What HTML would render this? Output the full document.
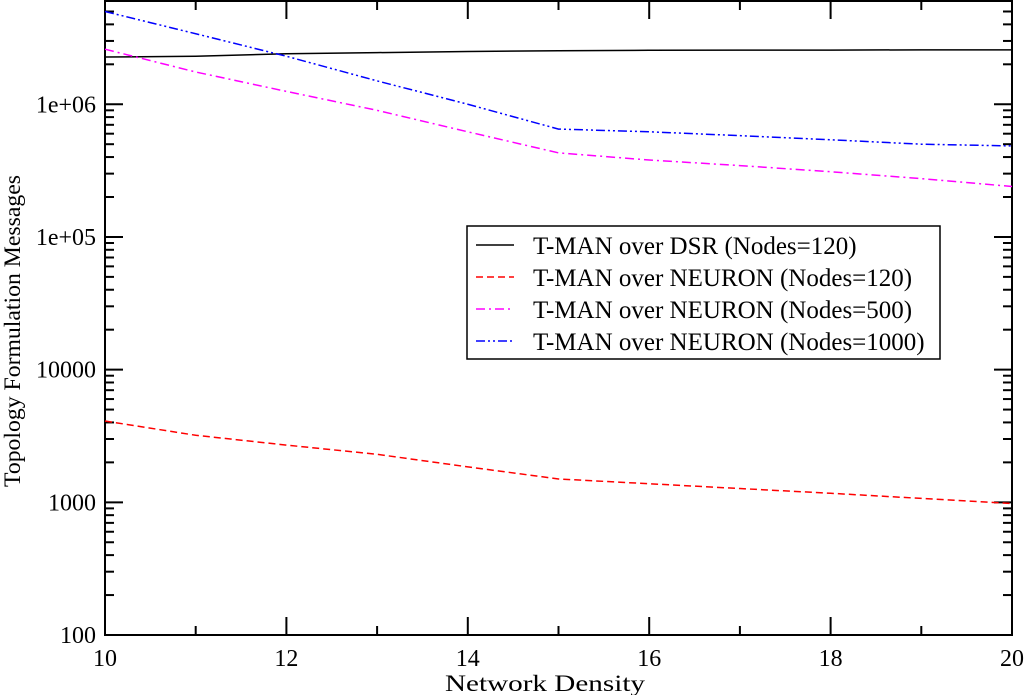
<!DOCTYPE html>
<html><head><meta charset="utf-8"><style>
html,body{margin:0;padding:0;background:#fff;}
svg{display:block;font-family:"Liberation Serif",serif;}
</style></head><body>
<svg id="chart" width="1024" height="695"></svg>
<script>
const xs=[10,11,12,13,14,15,16,17,18,19,20];
const dsr120=[2.27e6,2.3e6,2.4e6,2.45e6,2.5e6,2.53e6,2.55e6,2.56e6,2.56e6,2.57e6,2.57e6];
const neuron120=[4100,3200,2700,2300,1850,1500,1380,1270,1170,1070,980];
const neuron500=[2.6e6,1.75e6,1.25e6,0.9e6,6.2e5,4.3e5,3.8e5,3.45e5,3.1e5,2.75e5,2.4e5];
const neuron1000=[5e6,3.4e6,2.3e6,1.5e6,1e6,6.5e5,6.2e5,5.8e5,5.4e5,5.0e5,4.85e5];
const xTicks=[10,12,14,16,18,20];
const yTicks=[100,1000,10000,1e5,1e6];
const yTickLabels=["100","1000","10000","1e+05","1e+06"];
const legendLabels=["T-MAN over DSR (Nodes=120)","T-MAN over NEURON (Nodes=120)","T-MAN over NEURON (Nodes=500)","T-MAN over NEURON (Nodes=1000)"];

const L=105,R=1012,T=1,B=635,XMIN=10,XMAX=20,YMIN=100,YMAX=6e6;
const NS="http://www.w3.org/2000/svg";
const svg=document.getElementById('chart');
function X(v){return L+(v-XMIN)/(XMAX-XMIN)*(R-L);}
function Y(v){return B-(Math.log10(v)-Math.log10(YMIN))/(Math.log10(YMAX)-Math.log10(YMIN))*(B-T);}
function mk(t,a){const e=document.createElementNS(NS,t);for(const k in a)e.setAttribute(k,a[k]);svg.appendChild(e);return e;}

for(let v=10;v<=20;v+=1){const x=X(v);const len=(v%2===0)?18:9;
 let t=mk('line',{x1:x,y1:B,x2:x,y2:B-len,stroke:'#000','stroke-width':2});
 
 
 t=mk('line',{x1:x,y1:T,x2:x,y2:T+len,stroke:'#000','stroke-width':2});
 
 }
for(let d=100;d<=1e6;d*=10){for(let m=1;m<10;m++){const v=d*m;if(v>YMAX)break;const y=Y(v);const len=m===1?18:9;
 let t=mk('line',{x1:L,y1:y,x2:L+len,y2:y,stroke:'#000','stroke-width':2});
 
 
 t=mk('line',{x1:R,y1:y,x2:R-len,y2:y,stroke:'#000','stroke-width':2});
 
 }}
xTicks.forEach(v=>{const t=mk('text',{x:X(v),y:666,'text-anchor':'middle','font-size':24});t.textContent=v;
 
 });
yTicks.forEach((v,i)=>{const t=mk('text',{x:96,y:Y(v)+8,'text-anchor':'end','font-size':24});t.textContent=yTickLabels[i];
 
 });
let f=mk('rect',{x:L,y:T,width:R-L,height:B-T,fill:'none',stroke:'#000','stroke-width':2});


let xt=mk('text',{x:445,y:691,'font-size':23,textLength:200,lengthAdjust:'spacingAndGlyphs'});xt.textContent='Network Density';


let yt=mk('text',{x:0,y:0,'font-size':23,textLength:312,lengthAdjust:'spacingAndGlyphs',transform:'translate(20,487) rotate(-90)'});yt.textContent='Topology Formulation Messages';



const series=[[dsr120,'#000',''],[neuron120,'#f00','7,4'],[neuron500,'#f0f','9,4,2,4'],[neuron1000,'#00f','9,3,2,3,2,3']];
const names=['series-dsr-120','series-neuron-120','series-neuron-500','series-neuron-1000'];
series.forEach((s,i)=>{const pts=xs.map((x,j)=>X(x)+','+Y(s[0][j])).join(' ');
 const p=mk('polyline',{points:pts,fill:'none',stroke:s[1],'stroke-width':1.5,'stroke-dasharray':s[2]});
 
 });

let lb=mk('rect',{x:467,y:226,width:473,height:133,fill:'#fff',stroke:'#000','stroke-width':1.5});


const legendW=[322,368,368,406];
legendLabels.forEach((lab,i)=>{const y=245+i*32;
 const l=mk('line',{x1:476,y1:y,x2:514,y2:y,stroke:series[i][1],'stroke-width':1.5,'stroke-dasharray':series[i][2]});
 
 
 const t=mk('text',{x:533,y:y+9,'font-size':25});t.textContent=lab;
 
 });
</script>
</body></html>
